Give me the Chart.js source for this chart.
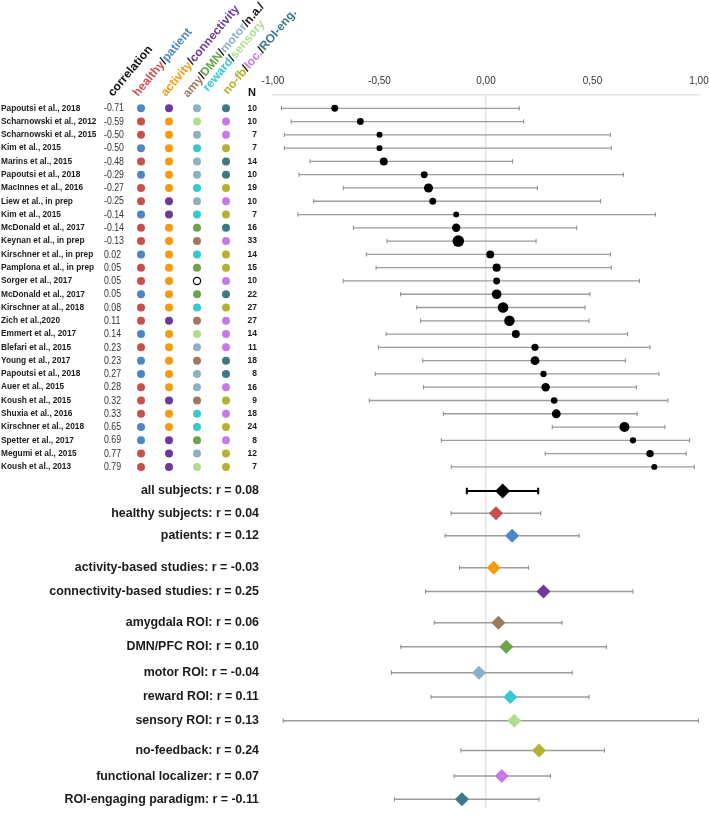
<!doctype html>
<html>

<head>
    <title>Forest plot</title>
    <script src="https://cdn.jsdelivr.net/npm/chart.js@4.4.0/dist/chart.umd.min.js"></script>
    <style>
        body { margin: 0; background: #fff; }
    </style>
</head>

<body>
    <canvas id="chart-area" width="709" height="816"></canvas>
    <script>
    // ---- data ----
    var studies = [
        "Papoutsi et al., 2018", "Scharnowski et al., 2012", "Scharnowski et al., 2015", "Kim et al., 2015",
        "Marins et al., 2015", "Papoutsi et al., 2018", "MacInnes et al., 2016", "Liew et al., in prep",
        "Kim et al., 2015", "McDonald et al., 2017", "Keynan et al., in prep", "Kirschner et al., in prep",
        "Pamplona et al., in prep", "Sorger et al., 2017", "McDonald et al., 2017", "Kirschner at al., 2018",
        "Zich et al.,2020", "Emmert et al., 2017", "Blefari et al., 2015", "Young et al., 2017",
        "Papoutsi et al., 2018", "Auer et al., 2015", "Koush et al., 2015", "Shuxia et al., 2016",
        "Kirschner et al., 2018", "Spetter et al., 2017", "Megumi et al., 2015", "Koush et al., 2013"
    ];
    var correlations = [-0.71, -0.59, -0.50, -0.50, -0.48, -0.29, -0.27, -0.25, -0.14, -0.14, -0.13, 0.02, 0.05, 0.05,
        0.05, 0.08, 0.11, 0.14, 0.23, 0.23, 0.27, 0.28, 0.32, 0.33, 0.65, 0.69, 0.77, 0.79];
    var ciLow = [-0.96, -0.915, -0.947, -0.947, -0.826, -0.878, -0.67, -0.809, -0.883, -0.623, -0.465, -0.562, -0.516, -0.67,
        -0.401, -0.325, -0.307, -0.469, -0.505, -0.297, -0.52, -0.293, -0.548, -0.2, 0.311, -0.21, 0.278, -0.163];
    var ciHigh = [0.156, 0.177, 0.584, 0.588, 0.125, 0.645, 0.241, 0.538, 0.795, 0.426, 0.235, 0.584, 0.588, 0.72,
        0.488, 0.465, 0.484, 0.665, 0.77, 0.654, 0.812, 0.706, 0.854, 0.71, 0.84, 0.956, 0.94, 0.978];
    var sampleSize = [10, 10, 7, 7, 14, 10, 19, 10, 7, 16, 33, 14, 15, 10, 22, 27, 27, 14, 11, 18, 8, 16, 9, 18, 24, 8, 12, 7];
    var subjects = ["patient", "healthy", "healthy", "patient", "healthy", "patient", "healthy", "healthy", "patient", "healthy",
        "healthy", "patient", "healthy", "healthy", "patient", "healthy", "healthy", "patient", "healthy", "patient",
        "patient", "healthy", "healthy", "healthy", "patient", "patient", "healthy", "healthy"];
    var feedback = ["connectivity", "activity", "activity", "activity", "activity", "activity", "activity", "connectivity",
        "connectivity", "activity", "activity", "activity", "activity", "activity", "activity", "activity", "connectivity",
        "activity", "activity", "activity", "activity", "activity", "connectivity", "activity", "activity", "connectivity",
        "connectivity", "connectivity"];
    var roiType = ["motor", "sensory", "motor", "reward", "motor", "motor", "reward", "motor", "reward", "dmn", "amy", "reward",
        "dmn", "na", "dmn", "reward", "amy", "sensory", "motor", "amy", "motor", "motor", "amy", "reward", "reward", "dmn",
        "motor", "sensory"];
    var paradigm = ["roieng", "loc", "loc", "nofb", "roieng", "roieng", "nofb", "loc", "nofb", "roieng", "loc", "nofb", "nofb",
        "loc", "roieng", "nofb", "loc", "loc", "loc", "roieng", "roieng", "loc", "nofb", "loc", "nofb", "loc", "nofb", "nofb"];

    var summaryLabels = ["all subjects", "healthy subjects", "patients", "activity-based studies", "connectivity-based studies",
        "amygdala ROI", "DMN/PFC ROI", "motor ROI", "reward ROI", "sensory ROI", "no-feedback", "functional localizer",
        "ROI-engaging paradigm"];
    var summaryKeys = ["all", "healthy", "patient", "activity", "connectivity", "amy", "dmn", "motor", "reward", "sensory",
        "nofb", "loc", "roieng"];
    var summaryReported = [0.08, 0.04, 0.12, -0.03, 0.25, 0.06, 0.10, -0.04, 0.11, 0.13, 0.24, 0.07, -0.11];
    var summaryR = [0.078, 0.047, 0.123, 0.036, 0.27, 0.058, 0.095, -0.033, 0.114, 0.133, 0.249, 0.074, -0.113];
    var summaryLow = [-0.09, -0.164, -0.192, -0.124, -0.284, -0.243, -0.40, -0.444, -0.258, -0.952, -0.118, -0.15, -0.43];
    var summaryHigh = [0.245, 0.257, 0.437, 0.199, 0.69, 0.357, 0.565, 0.405, 0.484, 0.998, 0.556, 0.303, 0.249];

    var tickValues = [-1, -0.5, 0, 0.5, 1];

    // ---- look ----
    var FONT = '"Liberation Sans", Arial, Helvetica, sans-serif';
    var colors = {
        all: "#000000", healthy: "#c8504c", patient: "#4b86c6",
        activity: "#f79a0e", connectivity: "#6a3b9c",
        amy: "#9e7a5e", dmn: "#6aa54a", motor: "#8fb0c3", reward: "#37c8d2", sensory: "#afdf8e", na: "#000000",
        nofb: "#b5b030", loc: "#c57ae6", roieng: "#3d7887"
    };
    var ciGrey = "#9c9c9c";
    // vertical position of the pooled rows (study rows are 0..27)
    var summaryRows = [28.82, 30.49, 32.18, 34.59, 36.38, 38.73, 40.55, 42.49, 44.32, 46.11, 48.35, 50.28, 52.03];

    function segments(lo, hi, rows) {
        var pts = [];
        for (var i = 0; i < lo.length; i++) {
            pts.push({ x: lo[i], y: rows[i] }, { x: hi[i], y: rows[i] }, { x: hi[i], y: null });
        }
        return pts;
    }
    function ends(lo, hi, rows) {
        var pts = [];
        for (var i = 0; i < lo.length; i++) {
            pts.push({ x: lo[i], y: rows[i] }, { x: hi[i], y: rows[i] });
        }
        return pts;
    }

    var studyRows = studies.map(function(s, i) { return i; });
    var pooledRows = summaryRows.slice(1);

    var config = {
        type: 'scatter',
        data: {
            datasets: [{
                // study estimates
                data: correlations.map(function(r, i) { return { x: r, y: i }; }),
                backgroundColor: "#000",
                borderWidth: 0,
                pointRadius: sampleSize.map(function(n) { return 0.9 * Math.sqrt(n) + 0.6; }),
                order: 0
            }, {
                // pooled diamonds
                data: summaryR.map(function(r, i) { return { x: r, y: summaryRows[i] }; }),
                pointStyle: 'rectRot',
                backgroundColor: summaryKeys.map(function(k) { return colors[k]; }),
                borderWidth: 0,
                pointRadius: summaryKeys.map(function(k) { return k === 'all' ? 7.5 : 7; }),
                order: 0
            }, {
                type: 'line',
                data: segments(ciLow, ciHigh, studyRows),
                borderColor: ciGrey,
                borderWidth: 1.3,
                pointRadius: 0,
                spanGaps: false,
                order: 3
            }, {
                type: 'line',
                data: segments(summaryLow.slice(1), summaryHigh.slice(1), pooledRows),
                borderColor: ciGrey,
                borderWidth: 1.5,
                pointRadius: 0,
                spanGaps: false,
                order: 3
            }, {
                type: 'line',
                data: segments(summaryLow.slice(0, 1), summaryHigh.slice(0, 1), summaryRows.slice(0, 1)),
                borderColor: "#000",
                borderWidth: 2,
                pointRadius: 0,
                spanGaps: false,
                order: 3
            }, {
                // whisker caps
                data: ends(ciLow, ciHigh, studyRows).concat(ends(summaryLow.slice(1), summaryHigh.slice(1), pooledRows)),
                pointStyle: 'line',
                rotation: 90,
                pointRadius: 2.2,
                borderColor: "#8a8a8a",
                borderWidth: 1,
                order: 2
            }, {
                data: ends(summaryLow.slice(0, 1), summaryHigh.slice(0, 1), summaryRows.slice(0, 1)),
                pointStyle: 'line',
                rotation: 90,
                pointRadius: 3.2,
                borderColor: "#000",
                borderWidth: 2,
                order: 2
            }]
        },
        options: {
            responsive: false,
            animation: false,
            events: [],
            layout: { padding: { left: 273, right: 10, top: 67, bottom: 0 } },
            plugins: { legend: { display: false }, tooltip: { enabled: false } },
            scales: {
                x: {
                    type: 'linear',
                    position: 'top',
                    min: -1,
                    max: 1,
                    afterBuildTicks: function(scale) {
                        scale.ticks = tickValues.map(function(v) { return { value: v }; });
                    },
                    afterFit: function(scale) {
                        scale.paddingLeft = 0;
                        scale.paddingRight = 0;
                    },
                    ticks: {
                        font: { size: 10, family: FONT },
                        color: "#333",
                        padding: 8,
                        maxRotation: 0,
                        callback: function(v) { return Number(v).toFixed(2).replace('.', ','); }
                    },
                    grid: {
                        drawTicks: false,
                        lineWidth: 1.5,
                        color: function(c) { return c.tick && c.tick.value === 0 ? "#e3e3e3" : "rgba(0,0,0,0)"; }
                    },
                    border: { color: "#e3e3e3", width: 1.5 }
                },
                y: { type: 'linear', reverse: true, min: -1, max: 52.72, display: false }
            }
        },
        plugins: [{
            id: 'sideTable',
            afterDraw: function(chart) {
                var ctx = chart.ctx;
                var ys = chart.scales.y;
                ctx.save();

                // rotated column headers
                var headers = [
                    [113, 97, [["correlation", "#111"]]],
                    [138, 97, [["healthy", colors.healthy], ["/", "#111"], ["patient", colors.patient]]],
                    [166, 97, [["activity", colors.activity], ["/", "#111"], ["connectivity", colors.connectivity]]],
                    [188, 98, [["amy", colors.amy], ["/", "#111"], ["DMN", colors.dmn], ["/", "#111"], ["motor", colors.motor], ["/n.a./", "#111"]]],
                    [208, 92, [["reward", colors.reward], ["/", "#111"], ["sensory", colors.sensory]]],
                    [228, 95, [["no-fb", colors.nofb], ["/", "#111"], ["loc.", colors.loc], ["/", "#111"], ["ROI-eng.", colors.roieng]]]
                ];
                ctx.font = "bold 12px " + FONT;
                ctx.textBaseline = 'alphabetic';
                ctx.textAlign = 'left';
                headers.forEach(function(h) {
                    ctx.save();
                    ctx.translate(h[0], h[1]);
                    ctx.rotate(-50 * Math.PI / 180);
                    var cx = 0;
                    h[2].forEach(function(p) {
                        ctx.fillStyle = p[1];
                        ctx.fillText(p[0], cx, 0);
                        cx += ctx.measureText(p[0]).width;
                    });
                    ctx.restore();
                });

                ctx.fillStyle = "#111";
                ctx.font = "bold 11px " + FONT;
                ctx.textAlign = 'center';
                ctx.textBaseline = 'middle';
                ctx.fillText("N", 252, 93);

                // study rows
                var cols = [141, 169, 197, 226];
                studies.forEach(function(name, i) {
                    var y = ys.getPixelForValue(i);
                    ctx.fillStyle = "#1a1a1a";
                    ctx.textAlign = 'left';
                    ctx.textBaseline = 'middle';
                    ctx.font = "bold 8.3px " + FONT;
                    ctx.fillText(name, 1, y);

                    ctx.save();
                    ctx.translate(104, y);
                    ctx.scale(0.76, 1);
                    ctx.font = "11.5px " + FONT;
                    ctx.fillStyle = "#333";
                    ctx.fillText(correlations[i].toFixed(2), 0, 0);
                    ctx.restore();

                    [subjects[i], feedback[i], roiType[i], paradigm[i]].forEach(function(k, j) {
                        ctx.beginPath();
                        if (k === 'na') {
                            ctx.arc(cols[j], y, 3.6, 0, Math.PI * 2);
                            ctx.lineWidth = 1.2;
                            ctx.strokeStyle = "#000";
                            ctx.stroke();
                        } else {
                            ctx.arc(cols[j], y, 4, 0, Math.PI * 2);
                            ctx.fillStyle = colors[k];
                            ctx.fill();
                        }
                    });

                    ctx.fillStyle = "#1a1a1a";
                    ctx.textAlign = 'right';
                    ctx.font = "bold 8.5px " + FONT;
                    ctx.fillText(String(sampleSize[i]), 257, y);
                });

                // pooled labels
                ctx.font = "bold 12.4px " + FONT;
                ctx.fillStyle = "#1a1a1a";
                ctx.textAlign = 'right';
                ctx.textBaseline = 'middle';
                summaryLabels.forEach(function(lab, i) {
                    var v = summaryReported[i];
                    var txt = lab + ": r = " + (v < 0 ? "-" : "") + Math.abs(v).toFixed(2);
                    ctx.fillText(txt, 259, ys.getPixelForValue(summaryRows[i]));
                });
                ctx.restore();
            }
        }]
    };

    window.onload = function() {
        var ctx = document.getElementById("chart-area").getContext("2d");
        window.myForest = new Chart(ctx, config);
    };
    </script>
</body>

</html>
